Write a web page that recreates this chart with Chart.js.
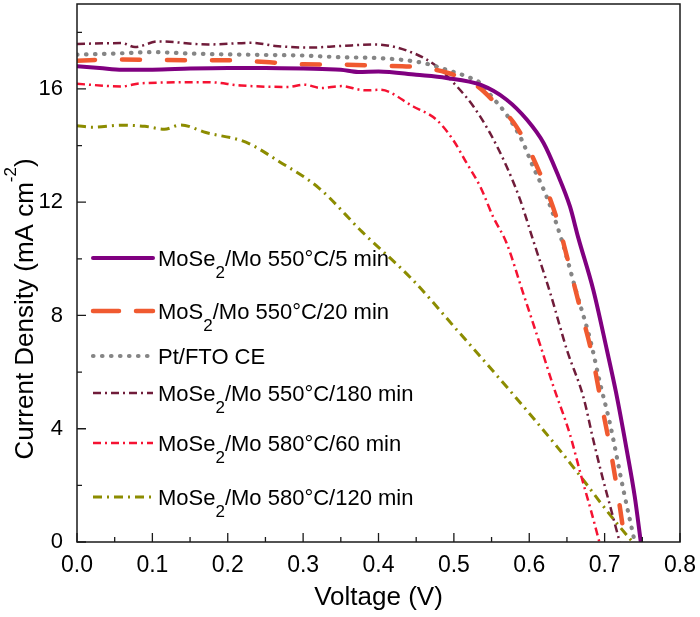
<!DOCTYPE html>
<html>
<head>
<meta charset="utf-8">
<script src="https://cdn.jsdelivr.net/npm/chart.js@4.4.1/dist/chart.umd.min.js"></script>
<style>
  body { margin: 0; background: #fff; }
  canvas { display: block; }
</style>
</head>
<body>
<canvas id="grafico" width="700" height="617"></canvas>
<script>
// J-V curves (V in volts, J in mA cm-2)
const labels = [
  'MoSe₂/Mo 550°C/5 min',
  'MoS₂/Mo 550°C/20 min',
  'Pt/FTO CE',
  'MoSe₂/Mo 550°C/180 min',
  'MoSe₂/Mo 580°C/60 min',
  'MoSe₂/Mo 580°C/120 min'
];

const vPurple = [0, 0.03, 0.06, 0.1, 0.15, 0.2, 0.25, 0.3, 0.35, 0.373, 0.4, 0.45, 0.49, 0.535, 0.57, 0.597, 0.619, 0.637, 0.654, 0.665, 0.685, 0.703, 0.715, 0.729, 0.74, 0.748];
const jPurple = [16.8, 16.74, 16.68, 16.68, 16.72, 16.74, 16.74, 16.72, 16.68, 16.6, 16.62, 16.5, 16.39, 16.15, 15.62, 14.91, 14.09, 13.03, 11.85, 10.75, 8.9, 6.78, 5.3, 3.3, 1.6, 0];

const vOrange = [0, 0.05, 0.1, 0.15, 0.2, 0.25, 0.3, 0.35, 0.4, 0.45, 0.49, 0.53, 0.555, 0.583, 0.614, 0.637, 0.65, 0.667, 0.683, 0.694, 0.707, 0.717, 0.727];
const jOrange = [17.0, 17.04, 17.03, 17.01, 17.01, 16.95, 16.87, 16.86, 16.82, 16.77, 16.58, 16.12, 15.5, 14.67, 13.03, 11.38, 10.08, 8.31, 6.66, 5.13, 3.36, 1.8, 0];

const vGray = [0, 0.05, 0.1, 0.15, 0.2, 0.25, 0.3, 0.35, 0.4, 0.459, 0.49, 0.517, 0.535, 0.55, 0.57, 0.59, 0.605, 0.623, 0.643, 0.663, 0.681, 0.694, 0.707, 0.725, 0.74];
const jGray = [17.21, 17.25, 17.3, 17.25, 17.22, 17.2, 17.18, 17.12, 17.09, 16.92, 16.68, 16.44, 16.21, 15.74, 15.09, 14.2, 13.26, 12.2, 10.67, 8.78, 7.13, 5.6, 4.19, 1.83, 0];

const vBrown = [0, 0.059, 0.077, 0.108, 0.174, 0.232, 0.263, 0.307, 0.351, 0.396, 0.446, 0.477, 0.504, 0.526, 0.548, 0.57, 0.588, 0.605, 0.628, 0.65, 0.672, 0.685, 0.697, 0.708, 0.72];
const jBrown = [17.59, 17.62, 17.48, 17.68, 17.57, 17.63, 17.52, 17.46, 17.52, 17.57, 17.27, 16.8, 16.09, 15.38, 14.44, 13.26, 12.08, 10.67, 8.78, 6.78, 5.1, 3.6, 2.3, 1.2, 0];

const vRed = [0, 0.059, 0.085, 0.174, 0.218, 0.28, 0.302, 0.324, 0.351, 0.382, 0.402, 0.446, 0.477, 0.499, 0.517, 0.535, 0.552, 0.57, 0.592, 0.614, 0.632, 0.654, 0.668, 0.682, 0.693];
const jRed = [16.18, 16.09, 16.2, 16.24, 16.12, 16.07, 16.15, 16.03, 16.1, 15.95, 15.97, 15.38, 14.91, 14.2, 13.38, 12.55, 11.49, 10.55, 8.78, 7.0, 5.5, 3.8, 2.42, 1.1, 0];

const vOlive = [0, 0.02, 0.059, 0.09, 0.116, 0.138, 0.171, 0.224, 0.268, 0.321, 0.378, 0.446, 0.504, 0.57, 0.637, 0.672, 0.694, 0.715, 0.737];
const jOlive = [14.7, 14.65, 14.72, 14.68, 14.58, 14.73, 14.46, 14.12, 13.44, 12.5, 10.96, 9.24, 7.49, 5.48, 3.36, 2.18, 1.41, 0.7, 0];

const xTicks = [0, 0.1, 0.2, 0.3, 0.4, 0.5, 0.6, 0.7, 0.8];
const yTicks = [0, 4, 8, 12, 16];

const fontFamily = '"Liberation Sans", Arial, sans-serif';
Chart.defaults.font.family = fontFamily;
Chart.defaults.color = '#000';

function puntos(vs, js) {
  return vs.map((v, i) => ({ x: v, y: js[i] }));
}

const estilos = [
  { color: '#800080', width: 4, dash: [], cap: 'round' },
  { color: '#F05A30', width: 4.5, dash: [18, 27], cap: 'round', legendDash: [26, 17] },
  { color: '#858585', width: 4.2, dash: [0.5, 8.5], cap: 'round' },
  { color: '#701C3A', width: 2.5, dash: [8, 4, 2, 4], cap: 'butt' },
  { color: '#F51232', width: 2.5, dash: [8, 4, 2, 4], cap: 'butt' },
  { color: '#8C8C00', width: 3, dash: [9, 5, 2, 5], cap: 'butt' }
];

const series = [
  puntos(vPurple, jPurple),
  puntos(vOrange, jOrange),
  puntos(vGray, jGray),
  puntos(vBrown, jBrown),
  puntos(vRed, jRed),
  puntos(vOlive, jOlive)
];

// frame box and inward ticks (major + minor)
const marco = {
  id: 'marco',
  afterDraw(chart) {
    const { ctx, chartArea: a, scales: { x, y } } = chart;
    ctx.save();
    ctx.strokeStyle = '#1a1a1a';
    ctx.lineWidth = 1.5;
    ctx.strokeRect(a.left, a.top, a.right - a.left, a.bottom - a.top);
    ctx.lineWidth = 1.3;
    ctx.beginPath();
    for (let k = 0; k <= 16; k++) {
      const px = x.getPixelForValue(k * 0.05);
      const len = k % 2 === 0 ? 9 : 5;
      ctx.moveTo(px, a.bottom);
      ctx.lineTo(px, a.bottom - len);
    }
    for (let k = 0; k <= 9; k++) {
      const py = y.getPixelForValue(k * 2);
      const len = k % 2 === 0 ? 9 : 5;
      ctx.moveTo(a.left, py);
      ctx.lineTo(a.left + len, py);
    }
    ctx.stroke();

    // y axis title with superscript
    const big = '26px ' + fontFamily;
    const small = '17px ' + fontFamily;
    const p1 = 'Current Density (mA cm', sup = '-2', p2 = ')';
    ctx.font = big;
    const w1 = ctx.measureText(p1).width, w3 = ctx.measureText(p2).width;
    ctx.font = small;
    const w2 = ctx.measureText(sup).width;
    const total = w1 + w2 + w3;
    ctx.translate(33, 309);
    ctx.rotate(-Math.PI / 2);
    ctx.fillStyle = '#000';
    ctx.textBaseline = 'alphabetic';
    let cx = -total / 2;
    ctx.font = big; ctx.fillText(p1, cx, 0); cx += w1;
    ctx.font = small; ctx.fillText(sup, cx, -17); cx += w2;
    ctx.font = big; ctx.fillText(p2, cx, 0);
    ctx.restore();
  }
};

// legend inside the plot, with real subscripts
const leyenda = {
  id: 'leyenda',
  afterDraw(chart, args, opts) {
    const { ctx } = chart;
    ctx.save();
    chart.data.datasets.forEach((ds, i) => {
      const yy = opts.rows[i];
      const est = estilos[i];
      ctx.beginPath();
      ctx.strokeStyle = est.color;
      ctx.lineWidth = est.width;
      ctx.lineCap = est.cap;
      ctx.setLineDash(est.legendDash || est.dash);
      ctx.moveTo(opts.x0, yy);
      ctx.lineTo(opts.x1, yy);
      ctx.stroke();
      ctx.setLineDash([]);

      const partes = ds.label.split('₂');
      let tx = opts.textX;
      ctx.fillStyle = '#000';
      ctx.textBaseline = 'alphabetic';
      partes.forEach((p, j) => {
        ctx.font = '22px ' + fontFamily;
        ctx.fillText(p, tx, yy + 8);
        tx += ctx.measureText(p).width;
        if (j < partes.length - 1) {
          ctx.font = '17px ' + fontFamily;
          ctx.fillText('2', tx, yy + 20);
          tx += ctx.measureText('2').width;
        }
      });
    });
    ctx.restore();
  }
};

const ctxJV = document.getElementById('grafico');

new Chart(ctxJV, {
  type: 'scatter',
  data: {
    datasets: series.map((pts, i) => ({
      label: labels[i],
      data: pts,
      showLine: true,
      borderColor: estilos[i].color,
      backgroundColor: estilos[i].color,
      borderWidth: estilos[i].width,
      borderDash: estilos[i].dash,
      borderCapStyle: estilos[i].cap,
      borderJoinStyle: 'round',
      cubicInterpolationMode: 'monotone',
      pointRadius: 0,
      order: i
    }))
  },
  options: {
    responsive: false,
    animation: false,
    layout: { padding: { top: 4, right: 20, left: 0, bottom: 0 } },
    plugins: {
      legend: { display: false },
      tooltip: { enabled: false },
      leyenda: { x0: 93, x1: 153, textX: 158, rows: [258, 311, 356, 393, 443, 497] }
    },
    scales: {
      x: {
        type: 'linear',
        min: 0,
        max: 0.8,
        afterBuildTicks: s => { s.ticks = xTicks.map(v => ({ value: v })); },
        afterFit: s => { s.height = 75; s.paddingLeft = 0; s.paddingRight = 0; },
        grid: { display: false, drawTicks: false },
        border: { display: false },
        ticks: {
          padding: 10,
          font: { size: 23 },
          color: '#000',
          callback: v => v.toFixed(1)
        },
        title: {
          display: true,
          text: 'Voltage (V)',
          font: { size: 26 },
          color: '#000',
          padding: { top: 0, bottom: 4 }
        }
      },
      y: {
        type: 'linear',
        min: 0,
        max: 19,
        afterBuildTicks: s => { s.ticks = yTicks.map(v => ({ value: v })); },
        afterFit: s => { s.width = 77; s.paddingTop = 0; s.paddingBottom = 0; },
        grid: { display: false, drawTicks: false },
        border: { display: false },
        ticks: {
          padding: 14,
          font: { size: 22 },
          color: '#000'
        }
      }
    }
  },
  plugins: [marco, leyenda]
});
</script>
</body>
</html>
